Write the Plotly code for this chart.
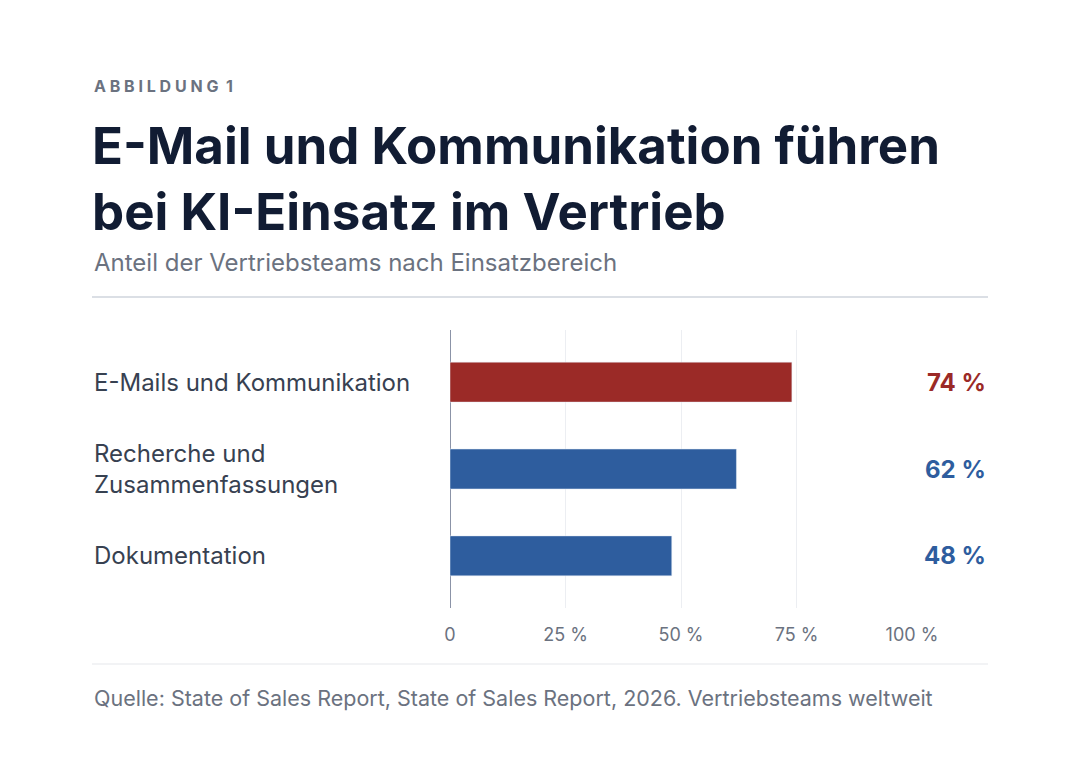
import plotly.graph_objects as go

categories = ["Dokumentation", "Recherche und<br>Zusammenfassungen", "E-Mails und Kommunikation"]
values = [48, 62, 74]
colors = ["#2e5d9e", "#2e5d9e", "#9b2a27"]
tickvals = [0, 25, 50, 75, 100]
ticktext = ["0", "25 %", "50 %", "75 %", "100 %"]

W, H = 1080, 768
O = 8  # page body offset
L, R, T, B = 450 - O, 912 - O, 330 - O, 608 - O
FONT = "Inter"

def px(x): return (x - O - L) / (R - L)
def py(y): return (B - (y - O)) / (B - T)

fig = go.Figure(go.Bar(
    x=values, y=list(range(len(categories))), orientation="h",
    marker=dict(color=colors), width=0.46, hoverinfo="skip"))

ann = []
for i, (c, v, col) in enumerate(zip(categories, values, colors)):
    ann.append(dict(x=px(92), y=i, xref="paper", yref="y", text=c, showarrow=False,
                    xanchor="left", align="left", font=dict(size=24, color="#374151", family=FONT)))
    ann.append(dict(x=px(988), y=i, xref="paper", yref="y", text=f"<b>{v} %</b>", showarrow=False,
                    xanchor="right", font=dict(size=24, color=col, family=FONT)))
ann += [
    dict(x=px(92), y=py(86), xref="paper", yref="paper", text="<b>A B B I L D U N G  1</b>", showarrow=False,
         xanchor="left", yanchor="middle", font=dict(size=16, color="#6b7280", family=FONT)),
    dict(x=px(90), y=py(178), xref="paper", yref="paper",
         text="<b>E-Mail und Kommunikation führen<br>bei KI-Einsatz im Vertrieb</b>", showarrow=False,
         xanchor="left", yanchor="middle", align="left", font=dict(size=51, color="#111c33", family=FONT)),
    dict(x=px(92), y=py(262), xref="paper", yref="paper", text="Anteil der Vertriebsteams nach Einsatzbereich",
         showarrow=False, xanchor="left", yanchor="middle", font=dict(size=24, color="#6b7280", family=FONT)),
    dict(x=px(92), y=py(698), xref="paper", yref="paper",
         text="Quelle: State of Sales Report, State of Sales Report, 2026. Vertriebsteams weltweit",
         showarrow=False, xanchor="left", yanchor="middle", font=dict(size=21.5, color="#6b7280", family=FONT)),
]
shapes = [
    dict(type="line", xref="paper", yref="paper", x0=px(92), x1=px(988), y0=py(297), y1=py(297),
         line=dict(color="#b8bfcc", width=1.2)),
    dict(type="line", xref="paper", yref="paper", x0=px(92), x1=px(988), y0=py(664), y1=py(664),
         line=dict(color="#e5e7eb", width=1)),
]

fig.update_layout(
    width=W, height=H, margin=dict(l=L, r=W - R, t=T, b=H - B),
    paper_bgcolor="white", plot_bgcolor="white", showlegend=False,
    annotations=ann, shapes=shapes,
    xaxis=dict(range=[0, 100], tickvals=tickvals, ticktext=ticktext, showgrid=True,
               gridcolor="#eceef2", zeroline=True, zerolinecolor="#8b93a7", zerolinewidth=1,
               tickfont=dict(size=18, color="#6b7280", family=FONT), ticks="", ticklabelstandoff=14),
    yaxis=dict(range=[-0.6, 2.6], showticklabels=False, showgrid=False, zeroline=False),
)
fig.write_html("out.html")
